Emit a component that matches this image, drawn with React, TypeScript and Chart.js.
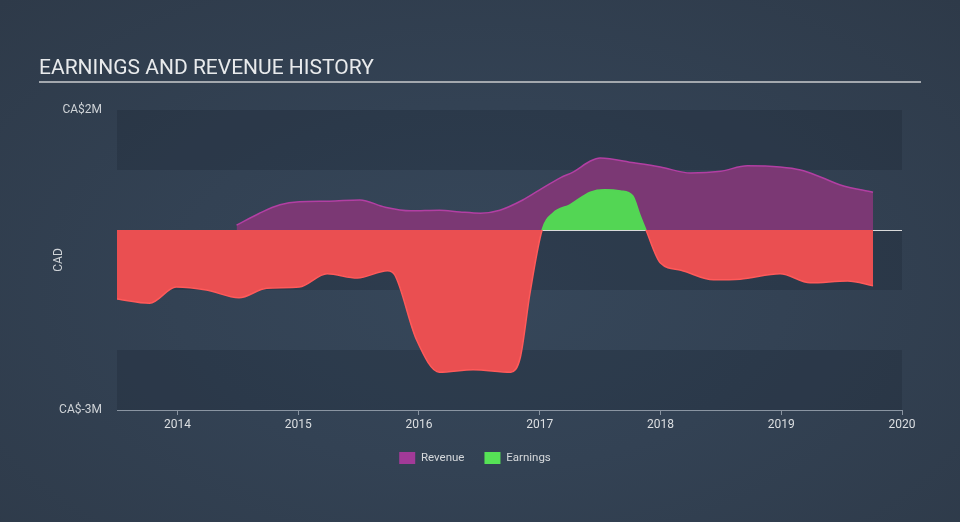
import React, { useEffect, useRef } from 'react';
import { Chart, registerables } from 'chart.js';

Chart.register(...registerables);

// Revenue (CA$ millions)
const revenueYears = [2014.49, 2014.68, 2014.85, 2015.01, 2015.26, 2015.51, 2015.72, 2015.93, 2016.17, 2016.34, 2016.51, 2016.67, 2016.86, 2017.0, 2017.17, 2017.28, 2017.42, 2017.5, 2017.78, 2018.0, 2018.25, 2018.5, 2018.72, 2018.99, 2019.16, 2019.33, 2019.49, 2019.76];
const revenueValues = [0.08, 0.28, 0.42, 0.47, 0.48, 0.5, 0.38, 0.32, 0.33, 0.3, 0.28, 0.33, 0.5, 0.67, 0.87, 0.97, 1.15, 1.2, 1.12, 1.05, 0.95, 0.98, 1.07, 1.05, 1.0, 0.88, 0.75, 0.63];

// Earnings (CA$ millions)
const earningsYears = [2013.5, 2013.77, 2013.99, 2014.24, 2014.51, 2014.74, 2015.01, 2015.24, 2015.49, 2015.74, 2015.8, 2015.98, 2016.17, 2016.45, 2016.76, 2016.84, 2016.92, 2017.02, 2017.11, 2017.25, 2017.42, 2017.54, 2017.67, 2017.77, 2017.83, 2017.88, 2018.0, 2018.17, 2018.44, 2018.66, 2018.99, 2019.24, 2019.55, 2019.76];
const earningsValues = [-1.15, -1.22, -0.95, -1.0, -1.13, -0.97, -0.95, -0.73, -0.8, -0.68, -0.75, -1.83, -2.37, -2.33, -2.37, -2.12, -1.05, 0, 0.28, 0.42, 0.63, 0.67, 0.65, 0.57, 0.25, 0, -0.55, -0.67, -0.83, -0.82, -0.73, -0.88, -0.85, -0.93];

const yearTicks = [2014, 2015, 2016, 2017, 2018, 2019, 2020];
const valueTicks = [-3, -2, -1, 0, 1, 2];
const valueTickLabels = ['CA$-3M', '', '', '', '', 'CA$2M'];
const darkBands = [[1, 2], [-1, 0], [-3, -2]];

const FONT = 'Roboto, "Noto Sans", sans-serif';
const RED = '#ea4f51';
const RED_LINE = '#ff5a5a';
const GREEN = '#53d654';
const PURPLE = '#7b3874';
const PURPLE_LINE = '#b23fa3';

const bandsPlugin = {
  id: 'bands',
  beforeDraw(chart: any) {
    const { ctx, chartArea } = chart;
    const y = chart.scales.y;
    ctx.save();
    ctx.fillStyle = 'rgba(20,28,40,0.22)';
    darkBands.forEach(([a, b]) => {
      const top = y.getPixelForValue(b);
      const bottom = y.getPixelForValue(a);
      ctx.fillRect(chartArea.left, top, chartArea.right - chartArea.left, bottom - top);
    });
    ctx.restore();
  },
};

export default function App() {
  const ref = useRef<HTMLCanvasElement | null>(null);

  useEffect(() => {
    document.body.style.margin = '0';
    if (!ref.current) return;
    const chart = new Chart(ref.current, {
      type: 'line',
      data: {
        datasets: [
          {
            label: 'Revenue',
            data: revenueYears.map((x, i) => ({ x, y: revenueValues[i] })),
            borderColor: PURPLE_LINE,
            backgroundColor: '#a23a98',
            borderWidth: 1.5,
            pointRadius: 0,
            cubicInterpolationMode: 'monotone',
            fill: { target: 'origin', above: PURPLE, below: PURPLE },
            order: 1,
          },
          {
            label: 'Earnings',
            data: earningsYears.map((x, i) => ({ x, y: earningsValues[i] })),
            borderColor: RED_LINE,
            backgroundColor: '#56e256',
            borderWidth: 1.5,
            pointRadius: 0,
            cubicInterpolationMode: 'monotone',
            fill: { target: 'origin', above: GREEN, below: RED },
            segment: {
              borderColor: (c: any) => ((c.p0.parsed.y + c.p1.parsed.y) / 2 >= 0 ? GREEN : RED_LINE),
            },
            order: 0,
          },
        ] as any,
      },
      options: {
        responsive: false,
        animation: false,
        layout: { padding: { top: 110, right: 10, bottom: 48, left: 0 } },
        plugins: {
          tooltip: { enabled: false },
          legend: {
            position: 'bottom',
            labels: {
              boxWidth: 16,
              boxHeight: 12,
              padding: 20,
              color: '#d6d9dc',
              font: { family: FONT, size: 11.5 },
              generateLabels: (chart: any) =>
                chart.data.datasets.map((d: any, i: number) => ({
                  text: d.label,
                  fillStyle: d.backgroundColor,
                  strokeStyle: d.backgroundColor,
                  lineWidth: 0,
                  fontColor: '#d6d9dc',
                  datasetIndex: i,
                  hidden: false,
                })),
            },
          },
        },
        scales: {
          x: {
            type: 'linear',
            min: 2013.5,
            max: 2020,
            afterBuildTicks: (s: any) => {
              s.ticks = yearTicks.map((v) => ({ value: v }));
            },
            afterFit: (s: any) => {
              s.height = 22;
            },
            grid: {
              drawOnChartArea: false,
              drawTicks: true,
              tickLength: 5,
              color: '#8a95a2',
            },
            border: { display: true, color: '#8a95a2', width: 1 },
            ticks: {
              color: '#dcdfe2',
              padding: 3,
              font: { family: FONT, size: 12 },
              maxRotation: 0,
              callback: (v: any) => String(v),
            },
          },
          y: {
            type: 'linear',
            min: -3,
            max: 2,
            afterBuildTicks: (s: any) => {
              s.ticks = valueTicks.map((v) => ({ value: v }));
            },
            afterFit: (s: any) => {
              s.width = 117;
            },
            grid: {
              drawTicks: false,
              color: (c: any) => (c.tick && c.tick.value === 0 ? 'rgba(235,235,235,0.9)' : 'rgba(0,0,0,0)'),
              lineWidth: 1,
            },
            border: { display: false },
            title: {
              display: true,
              text: 'CAD',
              color: '#cfd3d7',
              font: { family: FONT, size: 12 },
              padding: { top: 52, bottom: 0 },
            },
            ticks: {
              color: '#cfd3d7',
              padding: 15,
              font: { family: FONT, size: 12 },
              callback: (v: any) => {
                const i = valueTicks.indexOf(Number(v));
                return i >= 0 ? valueTickLabels[i] : '';
              },
            },
          },
          yRight: {
            type: 'linear',
            position: 'right',
            min: -3,
            max: 2,
            display: true,
            grid: { display: false, drawTicks: false },
            border: { display: false },
            ticks: { display: false },
            afterFit: (s: any) => {
              s.width = 48;
            },
          },
        },
      } as any,
      plugins: [bandsPlugin],
    });
    return () => chart.destroy();
  }, []);

  return (
    <div
      style={{
        position: 'fixed',
        left: 0,
        top: 0,
        width: 960,
        height: 522,
        background: 'radial-gradient(ellipse at 50% 55%, #36475a 0%, #334254 45%, #2e3a49 100%)',
        overflow: 'hidden',
      }}
    >
      <div
        style={{
          position: 'absolute',
          left: 39,
          top: 57,
          fontFamily: FONT,
          fontSize: 21,
          lineHeight: '21px',
          color: '#e8eaec',
          whiteSpace: 'nowrap',
        }}
      >
        EARNINGS AND REVENUE HISTORY
      </div>
      <div
        style={{
          position: 'absolute',
          left: 39,
          top: 81,
          width: 882,
          height: 2,
          background: '#a3a8ae',
        }}
      />
      <canvas ref={ref} width={960} height={522} style={{ position: 'absolute', left: 0, top: 0, width: 960, height: 522 }} />
    </div>
  );
}
